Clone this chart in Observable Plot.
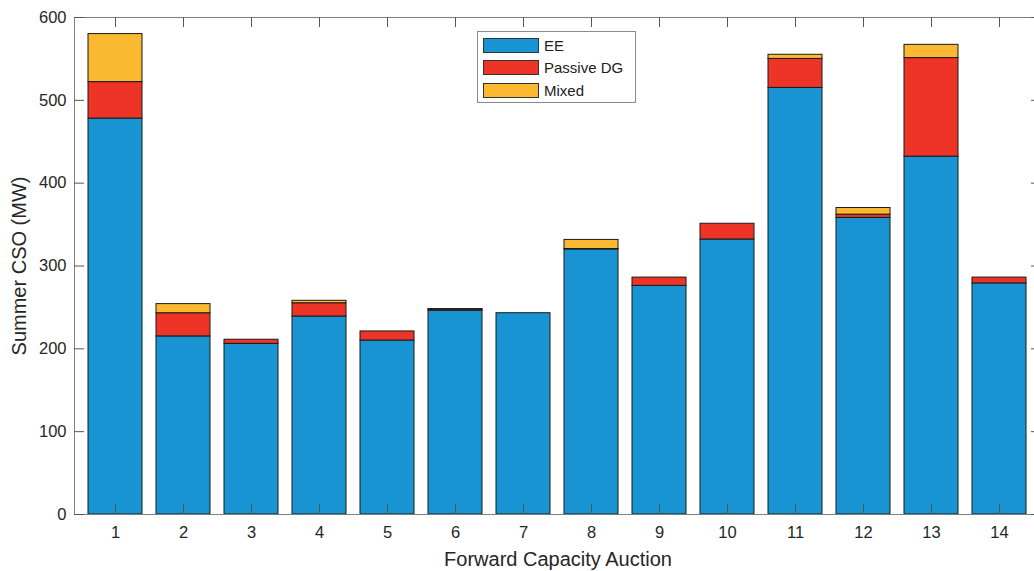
<!DOCTYPE html>
<html>
<head>
<meta charset="utf-8">
<script src="https://cdn.jsdelivr.net/npm/d3@7"></script>
<script src="https://cdn.jsdelivr.net/npm/@observablehq/plot@0.6"></script>
<style>
  html, body { margin: 0; padding: 0; background: #fff; overflow: hidden; }
  #wrap { position: relative; width: 1034px; height: 571px; overflow: hidden; }
  #legend { position: absolute; left: 477px; top: 31px; width: 159px; height: 72px;
    border: 1px solid #8a8a8a; background: #fff; box-sizing: border-box;
    font-family: "Liberation Sans", Arial, sans-serif; font-size: 15px; color: #222; }
  .item { position: absolute; left: 5px; height: 16px; display: flex; align-items: center; }
  .sw { width: 56px; height: 15px; border: 1px solid #333; box-sizing: border-box; margin-right: 5px; }
</style>
</head>
<body>
<div id="wrap"><div id="chart"></div><div id="legend"></div></div>
<script>
const auctions = ["1","2","3","4","5","6","7","8","9","10","11","12","13","14"];
const seriesNames = ["EE", "Passive DG", "Mixed"];
const eeValues    = [478, 215, 206, 239, 210, 246, 243, 320, 276, 332, 515, 358, 432, 279];
const dgValues    = [44, 28, 5, 16, 11, 1.5, 0, 0.5, 10, 19, 35, 4, 119, 7];
const mixedValues = [58, 11, 0, 3, 0, 0.5, 0, 11, 0, 0, 5, 8, 16, 0];
const yTicks = [0, 100, 200, 300, 400, 500, 600];
const colors = ["#1994d2", "#ee3327", "#fbb932"];
const xTitle = "Forward Capacity Auction";
const yTitle = "Summer CSO (MW)";

const seriesValues = [eeValues, dgValues, mixedValues];
const rows = [];
auctions.forEach((a, i) => {
  seriesNames.forEach((s, j) => {
    if (seriesValues[j][i] > 0) rows.push({auction: a, type: s, value: seriesValues[j][i]});
  });
});

const W = 1042, H = 571;
const mL = 74, mR = 1, mT = 17, mB = 57;
const innerW = W - mL - mR, innerH = H - mT - mB;
const tick = 10;
const font = "'Liberation Sans', Arial, sans-serif";

const chart = Plot.plot({
  width: W, height: H,
  marginLeft: mL, marginRight: mR, marginTop: mT, marginBottom: mB,
  style: {fontFamily: font, fontSize: "16px", color: "#262626", maxWidth: "none", overflow: "visible"},
  x: {type: "band", domain: auctions, paddingInner: 0.2, paddingOuter: 0.2, label: null},
  y: {domain: [0, 600], label: null},
  color: {domain: seriesNames, range: colors},
  marks: [
    Plot.barY(rows, {x: "auction", y: "value", fill: "type", stroke: "#1a1a1a", strokeWidth: 1}),
    Plot.frame({stroke: "#808080", strokeWidth: 1}),
    Plot.ruleX(auctions, {x: d => d, insetTop: innerH - tick, stroke: "#555"}),
    Plot.ruleX(auctions, {x: d => d, insetBottom: innerH - tick, stroke: "#555"}),
    Plot.ruleY(yTicks, {y: d => d, insetRight: innerW - tick, stroke: "#555"}),
    Plot.ruleY(yTicks, {y: d => d, insetLeft: innerW - tick, stroke: "#555"}),
    Plot.axisX({tickSize: 0, tickPadding: 12, fontSize: 16.5, fill: "#262626",
      label: xTitle, labelAnchor: "center", labelOffset: 51, labelArrow: "none"}),
    Plot.axisY({ticks: yTicks, tickSize: 0, tickPadding: 8, fontSize: 16.5, fill: "#262626",
      label: yTitle, labelAnchor: "center", labelOffset: 63, labelArrow: "none"})
  ]
});
document.getElementById("chart").appendChild(chart);

chart.querySelectorAll("text").forEach(t => {
  if (t.textContent === xTitle || t.textContent === yTitle) {
    t.setAttribute("font-size", "20px");
    t.style.fontSize = "20px";
    if (t.parentNode && t.parentNode.tagName === "g") t.parentNode.setAttribute("font-size", "20px");
  }
});

const legend = document.getElementById("legend");
seriesNames.forEach((s, j) => {
  const it = document.createElement("div");
  it.className = "item";
  it.style.top = (5 + j * 22.7) + "px";
  it.innerHTML = `<span class="sw" style="background:${colors[j]}"></span><span>${s}</span>`;
  legend.appendChild(it);
});
</script>
</body>
</html>
